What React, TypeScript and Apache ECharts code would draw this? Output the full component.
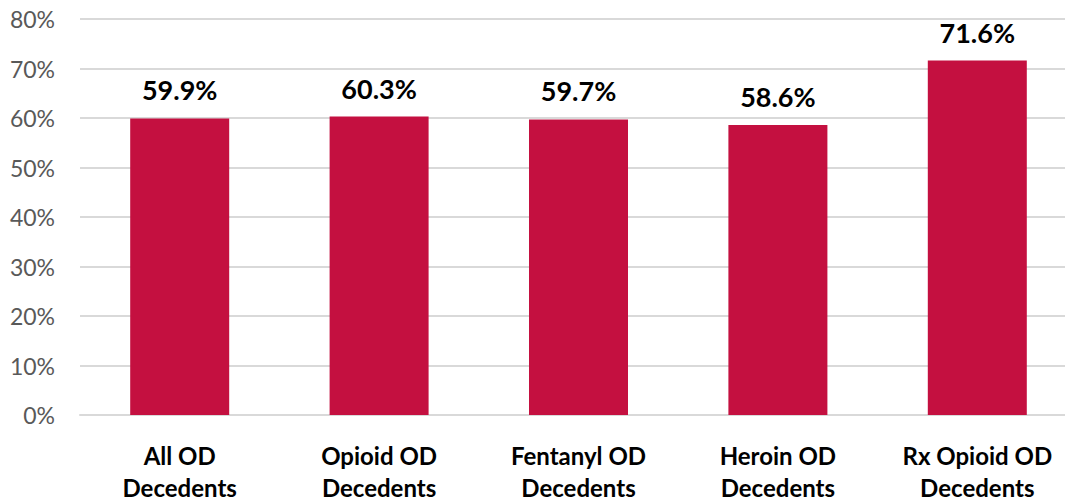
import React, { useEffect, useRef } from "react";
import * as echarts from "echarts";

const categories = [
  "All OD\nDecedents",
  "Opioid OD\nDecedents",
  "Fentanyl OD\nDecedents",
  "Heroin OD\nDecedents",
  "Rx Opioid OD\nDecedents",
];
const values = [59.9, 60.3, 59.7, 58.6, 71.6];

export default function App() {
  const ref = useRef<HTMLDivElement>(null);
  useEffect(() => {
    if (!ref.current) return;
    const chart = echarts.init(ref.current, null, { renderer: "svg" });
    chart.setOption({
      animation: false,
      grid: {
        left: 80,
        top: 19,
        width: 997,
        height: 396,
        containLabel: false,
        outerBoundsMode: "none",
      },
      xAxis: {
        type: "category",
        data: categories,
        axisLine: { lineStyle: { color: "#d9d9d9", width: 2 } },
        axisTick: { show: false },
        axisLabel: {
          color: "#000",
          fontWeight: "bold",
          fontSize: 24,
          fontFamily: "Lato, sans-serif",
          lineHeight: 32,
          margin: 24,
        },
      },
      yAxis: {
        type: "value",
        min: 0,
        max: 80,
        interval: 10,
        axisLine: { show: false },
        axisTick: { show: false },
        splitLine: { lineStyle: { color: "#d9d9d9", width: 2 } },
        axisLabel: {
          formatter: "{value}%",
          color: "#595959",
          fontSize: 23,
          fontFamily: "Lato, sans-serif",
          margin: 25,
        },
      },
      series: [
        {
          type: "bar",
          data: values,
          barWidth: 99,
          itemStyle: { color: "#C41040" },
          label: {
            show: true,
            position: "top",
            distance: 15,
            formatter: (p: any) => p.value.toFixed(1) + "%",
            color: "#000",
            fontWeight: "bold",
            fontSize: 27,
            fontFamily: "Lato, sans-serif",
          },
        },
      ],
    });
    return () => chart.dispose();
  }, []);
  return <div ref={ref} style={{ width: 1065, height: 504, position: "absolute", left: 0, top: 0 }} />;
}
